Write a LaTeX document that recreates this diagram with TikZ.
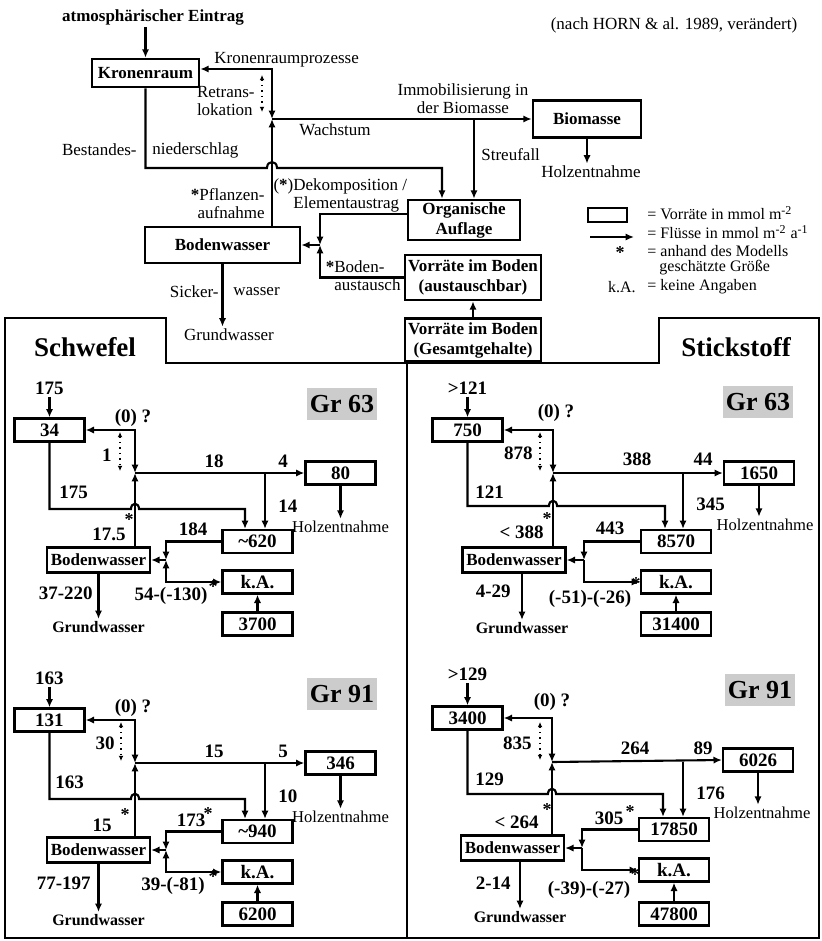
\documentclass[tikz,border=0pt]{standalone}
\usepackage{fontspec}
\setmainfont{Liberation Serif}
\usetikzlibrary{arrows.meta,calc,positioning}
\tikzset{
  box/.style={rectangle,draw,line width=1.1pt,inner sep=0pt,align=center,
    font=\fontsize{8.5}{10}\selectfont\bfseries},
  bigbox/.style={box,line width=1.3pt},
  vbox/.style={box,minimum width=35pt,minimum height=11.5pt,
    font=\fontsize{9.5}{10}\selectfont\bfseries},
  wbox/.style={box,minimum width=51.5pt,minimum height=12.5pt},
  kopf/.style={font=\fontsize{8.5}{10}\selectfont\bfseries,inner sep=1pt},
  txt/.style={font=\fontsize{8.5}{9}\selectfont,inner sep=1pt},
  leg/.style={font=\fontsize{8}{9}\selectfont,inner sep=1pt},
  zahl/.style={font=\fontsize{9.5}{10}\selectfont\bfseries,inner sep=1pt},
  stern/.style={font=\fontsize{9}{9}\selectfont\bfseries,inner sep=0pt},
  wort/.style={font=\fontsize{8.3}{9}\selectfont,inner sep=1pt},
  gwort/.style={font=\fontsize{8}{9}\selectfont\bfseries,inner sep=1pt},
  elem/.style={font=\fontsize{13.5}{14}\selectfont\bfseries},
  grlabel/.style={fill=gray!40,minimum width=35pt,minimum height=16pt,inner sep=0pt,
    font=\fontsize{13}{14}\selectfont\bfseries},
  % Fluesse: durchgezogene Pfeile, Retranslokation gepunktet
  pf/.style={-{Latex[length=4.2pt,width=3.6pt]},line width=1.05pt},
  dpf/.style={{Latex[length=4.2pt,width=3.6pt]}-{Latex[length=4.2pt,width=3.6pt]},line width=1.05pt},
  dotpf/.style={{Latex[length=2.6pt,width=2.4pt]}-{Latex[length=2.6pt,width=2.4pt]},
    dotted,line width=0.7pt},
  rahmen/.style={line width=0.8pt}
}

\begin{document}
\begin{tikzpicture}[x=0.5pt,y=-0.5pt]
  \useasboundingbox (0,0) rectangle (822,941);

  % Rahmen der Fallbeispiele
  \draw[rahmen] (5,318) -- (166,318) -- (166,363) -- (659,363) -- (659,318)
    -- (819,318) -- (819,938) -- (5,938) -- cycle;
  \draw[rahmen] (407,363) -- (407,938);
  \node[elem] (schwefel) at (85,347) {Schwefel};
  \node[elem] (stickstoff) at (736,347) {Stickstoff};

  % Schema
  \node[kopf] (atm) at (153,17) {atmosphärischer Eintrag};
  \node[txt] (quelle) at (674,25) {(nach HORN \& al. 1989, verändert)};
  \node[bigbox,minimum width=53.5pt,minimum height=14pt] (kron) at (145.5,73) {Kronenraum};
  \node[bigbox,minimum width=54pt,minimum height=18.5pt] (bio) at (587,119) {Biomasse};
  \node[bigbox,minimum width=56pt,minimum height=20pt] (org) at (464,220) {Organische\\Auflage};
  \node[bigbox,minimum width=77.5pt,minimum height=18pt] (bw) at (222.5,245) {Bodenwasser};
  \node[bigbox,minimum width=68pt,minimum height=22.5pt] (vaus) at (473,277.5) {Vorräte im Boden\\(austauschbar)};
  \node[bigbox,minimum width=68pt,minimum height=21.5pt] (vges) at (473,340) {Vorräte im Boden\\(Gesamtgehalte)};
  \coordinate (jt) at (272,119);
  \coordinate (jb) at (320,245);
  \coordinate (streu) at (474,119);
  \coordinate (hop) at (272,168);
  \coordinate (nied) at (442,168);
  \coordinate (rt-o) at (262,75);
  \coordinate (rt-u) at (262,112);

  \node[txt,anchor=west] (krp) at (212,60) {Kronenraumprozesse};
  \node[txt,align=left,anchor=east] (retr) at (257,101) {Retrans-\\lokation};
  \node[txt,align=center] (immo) at (463,99) {Immobilisierung in\\der Biomasse};
  \node[txt] (wachs) at (335,130) {Wachstum};
  \node[txt,anchor=east] (best1) at (139,150) {Bestandes-};
  \node[txt,anchor=west] (best2) at (150,150) {niederschlag};
  \node[txt,anchor=west] (streufall) at (479,155) {Streufall};
  \node[txt] (holz) at (591,172) {Holzentnahme};
  \node[txt,align=left,anchor=west] (deko) at (291,195) {\llap{(\textbf{*})}Dekomposition /\\Elementaustrag};
  \node[txt,align=right,anchor=east] (pfl) at (267,204) {\textbf{*}Pflanzen-\\aufnahme};
  \node[txt,align=left,anchor=west] (baus) at (332,276) {\llap{\textbf{*}}Boden-\\austausch};
  \node[txt,anchor=east] (sick1) at (221,292) {Sicker-};
  \node[txt,anchor=west] (sick2) at (231,292) {wasser};
  \node[txt] (gwo) at (229,335) {Grundwasser};

  \draw[pf] (atm.south -| kron.north) -- (kron.north);
  \draw[dpf] ([yshift=2pt]kron.east) -| (jt);
  \draw[dotpf] (rt-o) -- (rt-u);
  \draw[pf] (bw.north -| jt) -- (jt);
  \draw[pf] (jt) -- (bio.west);
  \draw[pf] (streu) -- (streu |- org.north);
  \draw[pf] (kron.south) -- (kron.south |- hop) -- ($(hop)+(-5,0)$)
    .. controls ($(hop)+(-5,-8)$) and ($(hop)+(5,-8)$) .. ($(hop)+(5,0)$)
    -- (nied) -- (nied |- org.north);
  \draw[pf] (bio.south) -- (bio.south |- holz.north);
  \draw[pf] ([yshift=3pt]org.west) -| (jb);
  \draw[pf] (vaus.west) -| (jb);
  \draw[pf] (jb) -- (bw.east);
  \draw[pf] (bw.south) -- (bw.south |- gwo.north);
  \draw[pf] (vges) -- (vaus);

  % Legende
  \node[draw,line width=0.7pt,minimum width=19.5pt,minimum height=7pt,inner sep=0pt] (leg-box) at (607.5,215) {};
  \coordinate (leg-a) at (590,237);
  \coordinate (leg-b) at (634,237);
  \draw[pf] (leg-a) -- (leg-b);
  \node[stern] (leg-s) at (620,253) {*};
  \node[leg,anchor=west] (leg1) at (645,213) {= Vorräte in mmol m\textsuperscript{-2}};
  \node[leg,anchor=west] (leg2) at (645,232) {= Flüsse in mmol m\textsuperscript{-2} a\textsuperscript{-1}};
  \node[leg,anchor=west] (leg3) at (645,251) {= anhand des Modells};
  \node[leg,anchor=west] (leg4) at (657,268) {geschätzte Größe};
  \node[leg,anchor=east] (leg-ka) at (638,287) {k.A.};
  \node[leg,anchor=west] (leg5) at (645,287) {= keine Angaben};

  % Schwefel, Gr 63
  \begin{scope}[name prefix=s63-]
    \node[zahl] (ein) at (49.5,388) {175};
    \node[vbox] (kr) at (49.5,430) {34};
    \node[vbox] (bm) at (340.5,473) {80};
    \node[vbox] (org) at (257.5,541.5) {\textasciitilde620};
    \node[wbox] (bw) at (98.5,560) {Bodenwasser};
    \node[vbox] (ka) at (257.5,582) {k.A.};
    \node[vbox] (ges) at (257.5,624) {3700};
    \node[grlabel] (gr) at (342,404) {Gr 63};
    \coordinate (j) at (135,473);
    \coordinate (jb) at (166,560);
    \coordinate (sp) at (265,473);
    \coordinate (hop) at (135,509);
    \coordinate (nd) at (245,509);
    \coordinate (rt-o) at (120,432);
    \coordinate (rt-u) at (120,471);
    \node[zahl] (null) at (133,418) {(0) ?};
    \node[zahl,anchor=east] (rt) at (114,455) {1};
    \node[zahl] (wachs) at (214,461) {18};
    \node[zahl] (holzfl) at (283,461) {4};
    \node[zahl,anchor=west] (streu) at (276,506) {14};
    \node[zahl,anchor=west] (nied) at (57,492) {175};
    \node[zahl,anchor=east] (auf) at (128,534) {17.5};
    \node[stern] (auf-s) at (129,520) {*};
    \node[zahl] (deko) at (193,529) {184};
    \node[zahl] (aus) at (171,596) {54-(-130)};
    \node[stern] (aus-s) at (213,587) {*};
    \node[zahl,anchor=east] (sick) at (95,593) {37-220};
    \node[wort] (holz) at (340.5,527) {Holzentnahme};
    \node[gwort] (gw) at (98.5,627) {Grundwasser};
    \draw[pf] (ein) -- (kr);
    \draw[dpf] (kr.east) -| (j);
    \draw[dotpf] (rt-o) -- (rt-u);
    \draw[pf] (bw.north -| j) -- (j);
    \draw[pf] (j) -- (bm.west);
    \draw[pf] (sp) -- (sp |- org.north);
    \draw[pf] (kr.south) -- (kr.south |- hop) -- ($(hop)+(-4,0)$)
      .. controls ($(hop)+(-4,-7)$) and ($(hop)+(4,-7)$) .. ($(hop)+(4,0)$)
      -- (nd) -- (nd |- org.north);
    \draw[pf] (bm.south) -- (holz.north);
    \draw[pf] (org.west) -| (jb);
    \draw[pf] (jb) -- (bw.east);
    \draw[dpf] (jb) |- (ka.west);
    \draw[pf] (ges) -- (ka);
    \draw[pf] (bw.south) -- (gw.north);
  \end{scope}

  % Schwefel, Gr 91
  \begin{scope}[shift={(0,290)},name prefix=s91-]
    \node[zahl] (ein) at (49.5,388) {163};
    \node[vbox] (kr) at (49.5,430) {131};
    \node[vbox] (bm) at (340.5,473) {346};
    \node[vbox] (org) at (257.5,541.5) {\textasciitilde940};
    \node[wbox] (bw) at (98.5,560) {Bodenwasser};
    \node[vbox] (ka) at (257.5,582) {k.A.};
    \node[vbox] (ges) at (257.5,624) {6200};
    \node[grlabel] (gr) at (342,404) {Gr 91};
    \coordinate (j) at (135,473);
    \coordinate (jb) at (166,560);
    \coordinate (sp) at (265,473);
    \coordinate (hop) at (135,509);
    \coordinate (nd) at (245,509);
    \coordinate (rt-o) at (121,432);
    \coordinate (rt-u) at (121,471);
    \node[zahl] (null) at (133,418) {(0) ?};
    \node[zahl,anchor=east] (rt) at (117,453) {30};
    \node[zahl] (wachs) at (214,461) {15};
    \node[zahl] (holzfl) at (283,461) {5};
    \node[zahl,anchor=west] (streu) at (276,506) {10};
    \node[zahl,anchor=west] (nied) at (53,492) {163};
    \node[zahl,anchor=east] (auf) at (114,535) {15};
    \node[stern] (auf-s) at (125,525) {*};
    \node[zahl] (deko) at (191,530) {173};
    \node[stern] (deko-s) at (208,524) {*};
    \node[zahl] (aus) at (173,596) {39-(-81)};
    \node[stern] (aus-s) at (213,587) {*};
    \node[zahl,anchor=east] (sick) at (93,593) {77-197};
    \node[wort] (holz) at (340.5,527) {Holzentnahme};
    \node[gwort] (gw) at (98.5,630) {Grundwasser};
    \draw[pf] (ein) -- (kr);
    \draw[dpf] (kr.east) -| (j);
    \draw[dotpf] (rt-o) -- (rt-u);
    \draw[pf] (bw.north -| j) -- (j);
    \draw[pf] (j) -- (bm.west);
    \draw[pf] (sp) -- (sp |- org.north);
    \draw[pf] (kr.south) -- (kr.south |- hop) -- ($(hop)+(-4,0)$)
      .. controls ($(hop)+(-4,-7)$) and ($(hop)+(4,-7)$) .. ($(hop)+(4,0)$)
      -- (nd) -- (nd |- org.north);
    \draw[pf] (bm.south) -- (holz.north);
    \draw[pf] (org.west) -| (jb);
    \draw[pf] (jb) -- (bw.east);
    \draw[dpf] (jb) |- (ka.west);
    \draw[pf] (ges) -- (ka);
    \draw[pf] (bw.south) -- (gw.north);
  \end{scope}

  % Stickstoff, Gr 63
  \begin{scope}[shift={(418,0)},name prefix=n63-]
    \node[zahl] (ein) at (49.5,388) {>121};
    \node[vbox] (kr) at (49.5,430) {750};
    \node[vbox] (bm) at (341,473) {1650};
    \node[vbox] (org) at (258,541.5) {8570};
    \node[wbox] (bw) at (96,560) {Bodenwasser};
    \node[vbox] (ka) at (258,582) {k.A.};
    \node[vbox] (ges) at (258,624) {31400};
    \node[grlabel] (gr) at (340,402) {Gr 63};
    \coordinate (j) at (135,473);
    \coordinate (jb) at (166,560);
    \coordinate (sp) at (265,473);
    \coordinate (hop) at (135,506);
    \coordinate (nd) at (247,506);
    \coordinate (rt-o) at (122,432);
    \coordinate (rt-u) at (122,471);
    \node[zahl] (null) at (138,413) {(0) ?};
    \node[zahl,anchor=east] (rt) at (117,453) {878};
    \node[zahl] (wachs) at (219,459) {388};
    \node[zahl] (holzfl) at (285,459) {44};
    \node[zahl,anchor=west] (streu) at (276,504) {345};
    \node[zahl,anchor=west] (nied) at (55,492) {121};
    \node[zahl,anchor=east] (auf) at (128,532) {< 388};
    \node[stern] (auf-s) at (129,519) {*};
    \node[zahl] (deko) at (192,528) {443};
    \node[zahl] (aus) at (172,599) {(-51)-(-26)};
    \node[stern] (aus-s) at (218,584) {*};
    \node[zahl,anchor=east] (sick) at (95,591) {4-29};
    \node[wort] (holz) at (347,525) {Holzentnahme};
    \node[gwort] (gw) at (104,628) {Grundwasser};
    \draw[pf] (ein) -- (kr);
    \draw[dpf] (kr.east) -| (j);
    \draw[dotpf] (rt-o) -- (rt-u);
    \draw[pf] (bw.north -| j) -- (j);
    \draw[pf] (j) -- (bm.west);
    \draw[pf] (sp) -- (sp |- org.north);
    \draw[pf] (kr.south) -- (kr.south |- hop) -- ($(hop)+(-4,0)$)
      .. controls ($(hop)+(-4,-7)$) and ($(hop)+(4,-7)$) .. ($(hop)+(4,0)$)
      -- (nd) -- (nd |- org.north);
    \draw[pf] (bm.south) -- (bm.south |- holz.north);
    \draw[pf] (org.west) -| (jb);
    \draw[pf] (jb) -- (bw.east);
    \draw[pf] (jb) |- (ka.west);
    \draw[pf] (ges) -- (ka);
    \draw[pf] (bw.south -| gw) -- (gw.north);
  \end{scope}

  % Stickstoff, Gr 91
  \begin{scope}[shift={(418,290)},name prefix=n91-]
    \node[zahl] (ein) at (49.5,384) {>129};
    \node[vbox] (kr) at (49.5,428) {3400};
    \node[vbox] (bm) at (340,470) {6026};
    \node[vbox] (org) at (256,539.5) {17850};
    \node[wbox] (bw) at (94.5,558) {Bodenwasser};
    \node[vbox] (ka) at (256,580) {k.A.};
    \node[vbox] (ges) at (256,624) {47800};
    \node[grlabel] (gr) at (342,400) {Gr 91};
    \coordinate (j) at (134,472);
    \coordinate (jb) at (164,558);
    \coordinate (sp) at (265,472);
    \coordinate (hop) at (134,504);
    \coordinate (nd) at (245,504);
    \coordinate (rt-o) at (122,432);
    \coordinate (rt-u) at (122,470);
    \node[zahl] (null) at (134,412) {(0) ?};
    \node[zahl,anchor=east] (rt) at (116,453) {835};
    \node[zahl] (wachs) at (217,458) {264};
    \node[zahl] (holzfl) at (285,458) {89};
    \node[zahl,anchor=west] (streu) at (276,503) {176};
    \node[zahl,anchor=west] (nied) at (55,489) {129};
    \node[zahl,anchor=east] (auf) at (123,532) {< 264};
    \node[stern] (auf-s) at (129,520) {*};
    \node[zahl] (deko) at (191,528) {305};
    \node[stern] (deko-s) at (212,522) {*};
    \node[zahl] (aus) at (171,600) {(-39)-(-27)};
    \node[stern] (aus-s) at (217,585) {*};
    \node[zahl,anchor=east] (sick) at (95,593) {2-14};
    \node[wort] (holz) at (344,523) {Holzentnahme};
    \node[gwort] (gw) at (102,627) {Grundwasser};
    \draw[pf] (ein) -- (kr);
    \draw[dpf] (kr.east) -| (j);
    \draw[dotpf] (rt-o) -- (rt-u);
    \draw[pf] (bw.north -| j) -- (j);
    \draw[pf] (j) -- (bm.west);
    \draw[pf] (sp) -- (sp |- org.north);
    \draw[pf] (kr.south) -- (kr.south |- hop) -- ($(hop)+(-4,0)$)
      .. controls ($(hop)+(-4,-7)$) and ($(hop)+(4,-7)$) .. ($(hop)+(4,0)$)
      -- (nd) -- (nd |- org.north);
    \draw[pf] (bm.south) -- (bm.south |- holz.north);
    \draw[pf] (org.west) -| (jb);
    \draw[pf] (jb) -- (bw.east);
    \draw[pf] (jb) |- (ka.west);
    \draw[pf] (ges) -- (ka);
    \draw[pf] (bw.south -| gw) -- (gw.north);
  \end{scope}
\end{tikzpicture}
\end{document}
